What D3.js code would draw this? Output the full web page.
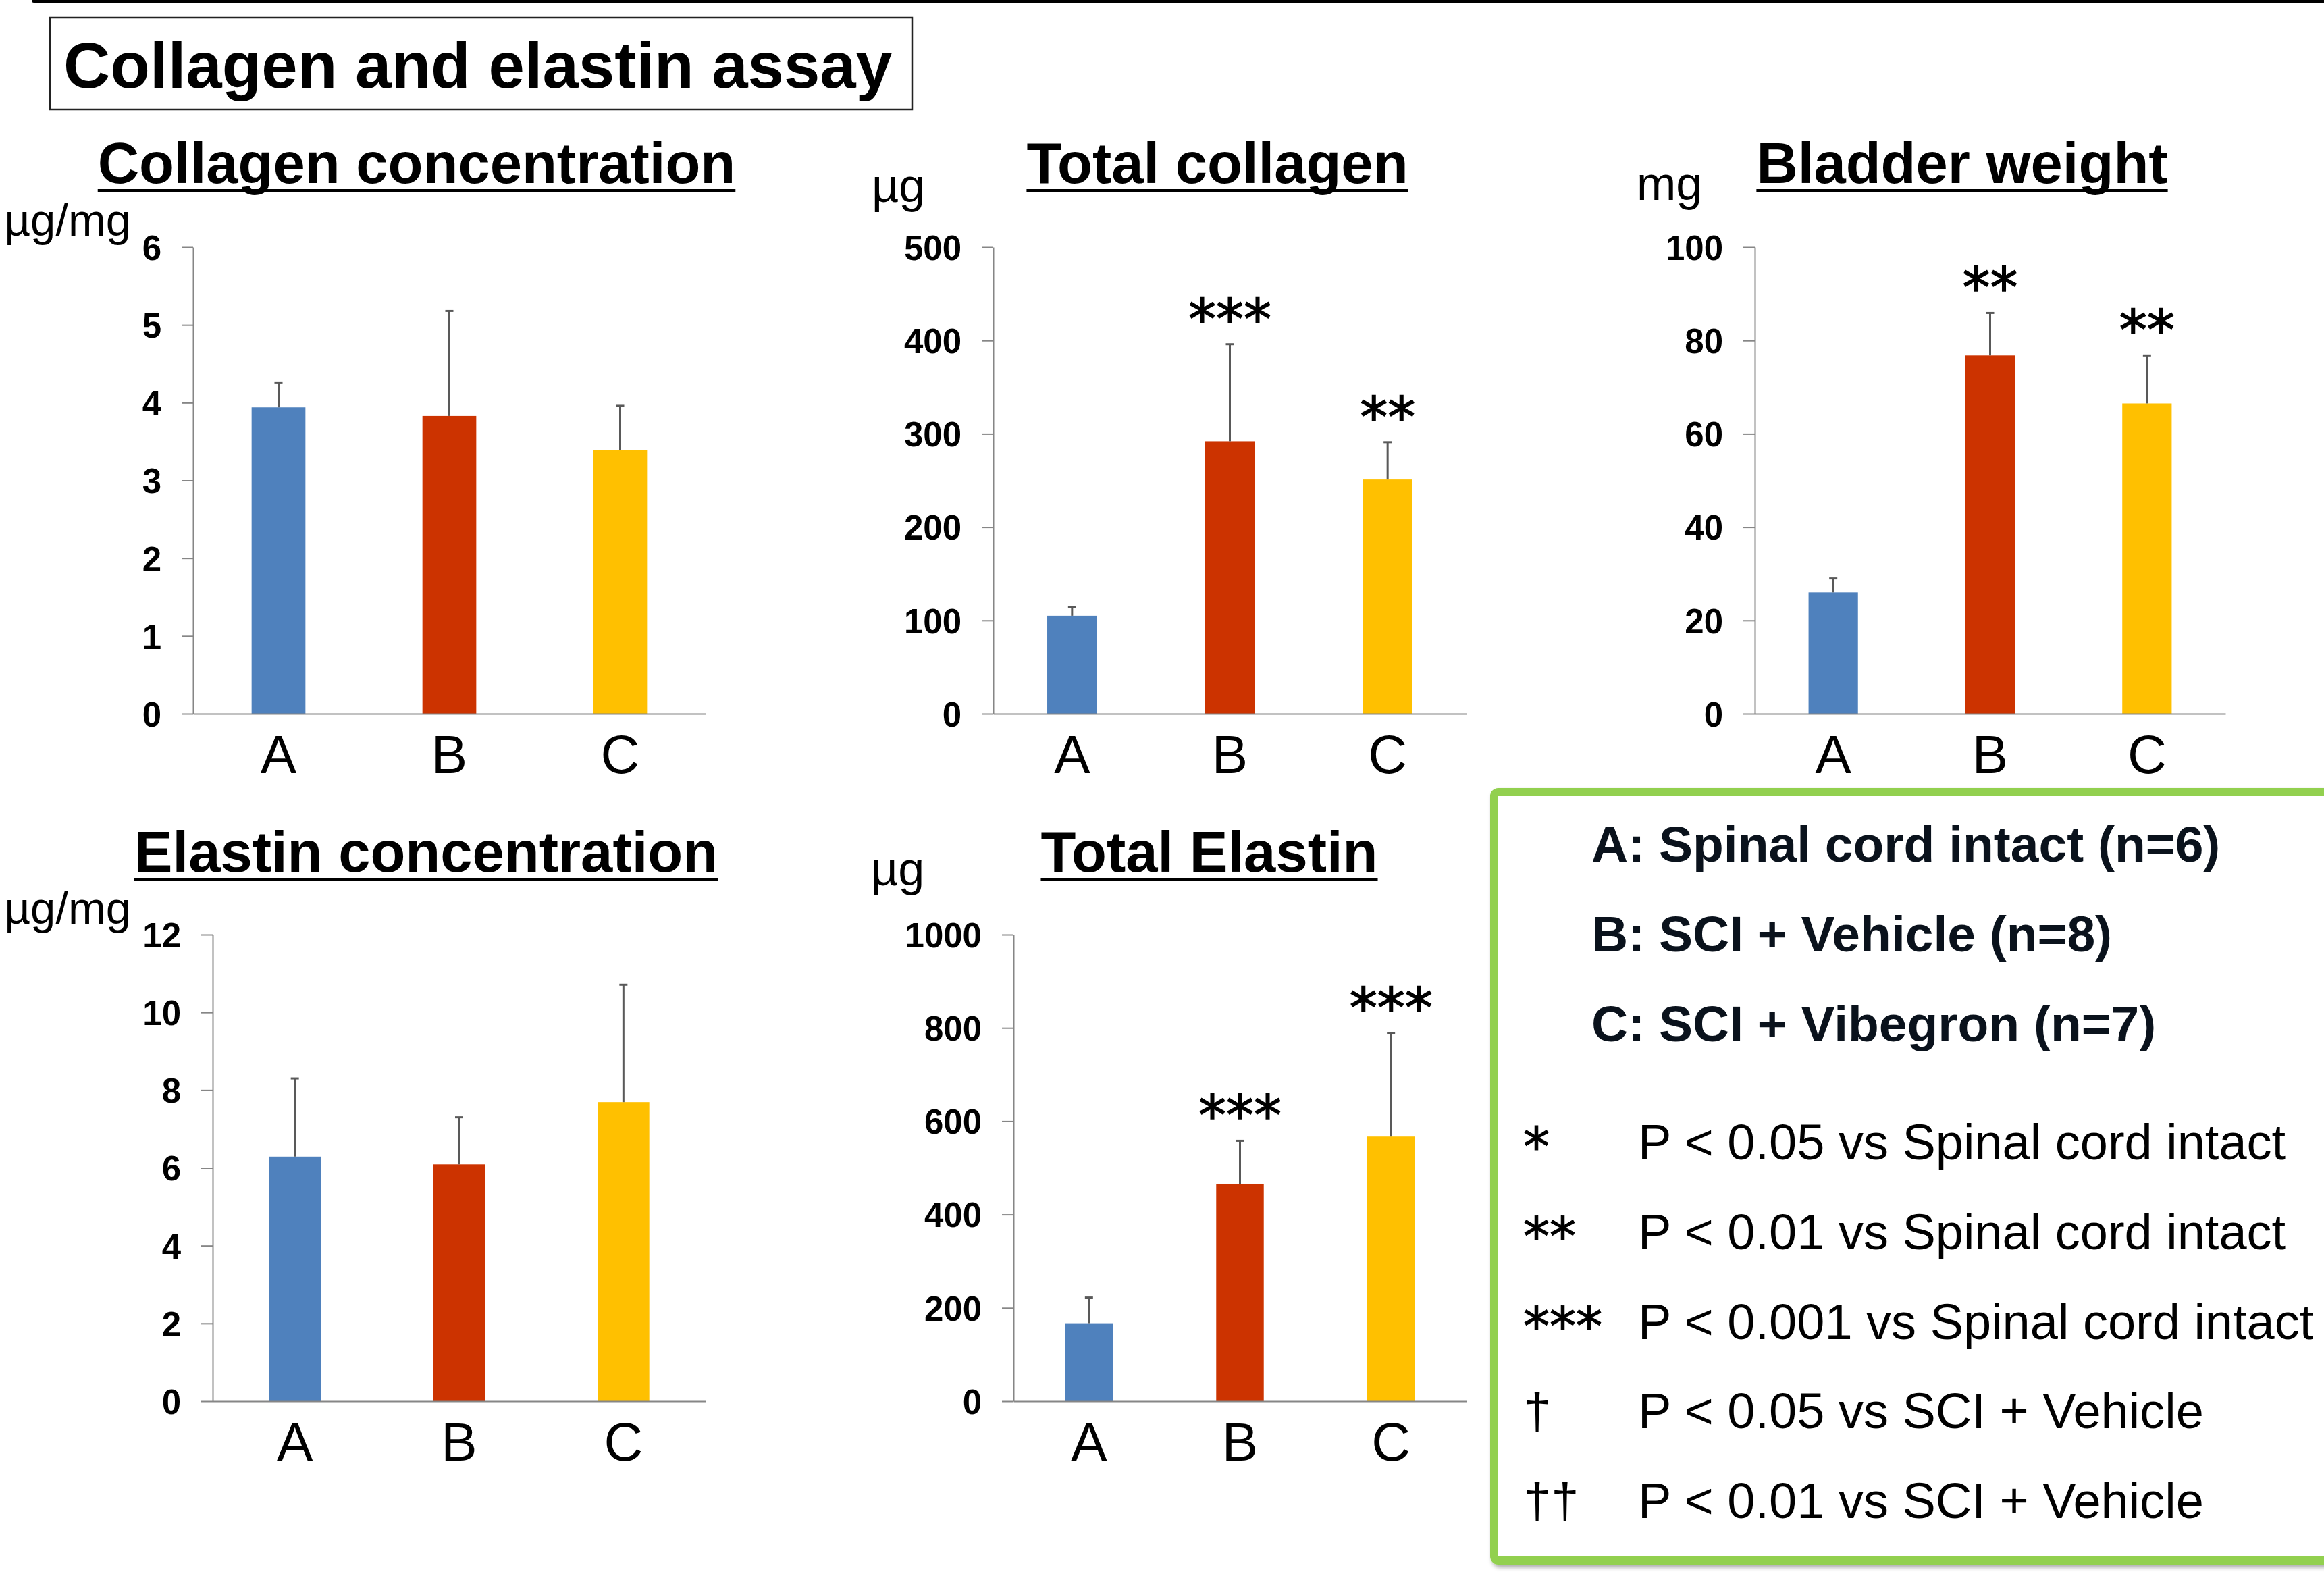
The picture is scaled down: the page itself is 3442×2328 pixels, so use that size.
<!DOCTYPE html>
<html>
<head>
<meta charset="utf-8">
<script src="https://cdn.jsdelivr.net/npm/d3@7"></script>
<style>
  html, body { margin: 0; padding: 0; background: #fff; }
  svg { display: block; }
</style>
</head>
<body>
<svg id="chart" width="3442" height="2328"></svg>
<script>
// ---------------- DATA ----------------
const categories = ["A", "B", "C"];
const barColors = ["#4F81BD", "#CC3300", "#FFC000"];

const collagenConc = [3.94, 3.83, 3.39];
const collagenConcErr = [0.32, 1.35, 0.57];
const collagenConcStars = ["", "", ""];
const collagenConcTicks = [0, 1, 2, 3, 4, 5, 6];

const totalCollagen = [105, 292, 251];
const totalCollagenErr = [9, 104, 40];
const totalCollagenStars = ["", "***", "**"];
const totalCollagenTicks = [0, 100, 200, 300, 400, 500];

const bladderWeight = [26.0, 76.8, 66.5];
const bladderWeightErr = [3.0, 9.1, 10.3];
const bladderWeightStars = ["", "**", "**"];
const bladderWeightTicks = [0, 20, 40, 60, 80, 100];

const elastinConc = [6.29, 6.09, 7.69];
const elastinConcErr = [2.01, 1.21, 3.02];
const elastinConcStars = ["", "", ""];
const elastinConcTicks = [0, 2, 4, 6, 8, 10, 12];

const totalElastin = [167, 466, 567];
const totalElastinErr = [55, 92, 222];
const totalElastinStars = ["", "***", "***"];
const totalElastinTicks = [0, 200, 400, 600, 800, 1000];

const panelTitles = ["Collagen concentration", "Total collagen", "Bladder weight", "Elastin concentration", "Total Elastin"];
const panelUnits = ["µg/mg", "µg", "mg", "µg/mg", "µg"];

const mainTitle = "Collagen and elastin assay";
const legendGroups = ["A: Spinal cord intact (n=6)", "B: SCI + Vehicle (n=8)", "C: SCI + Vibegron (n=7)"];
const legendSymbols = ["*", "**", "***", "†", "††"];
const legendMeanings = ["P < 0.05 vs Spinal cord intact", "P < 0.01 vs Spinal cord intact", "P < 0.001 vs Spinal cord intact", "P < 0.05 vs SCI + Vehicle", "P < 0.01 vs SCI + Vehicle"];

// ---------------- LAYOUT ----------------
const FONT = "'Liberation Sans', Arial, Helvetica, sans-serif";
const STARFONT = "'DejaVu Sans', sans-serif";
const layout = [
  { x0: 286,  x1: 1045, y0: 366,  y1: 1057, titleX: 617,  titleY: 271,  unitX: 194,  unitY: 349,  unitAnchor: "end" },
  { x0: 1471, x1: 2172, y0: 366,  y1: 1057, titleX: 1803, titleY: 271,  unitX: 1291, unitY: 299,  unitAnchor: "start" },
  { x0: 2599, x1: 3296, y0: 366,  y1: 1057, titleX: 2906, titleY: 271,  unitX: 2424, unitY: 296,  unitAnchor: "start" },
  { x0: 315,  x1: 1045, y0: 1384, y1: 2075, titleX: 631,  titleY: 1291, unitX: 194,  unitY: 1368, unitAnchor: "end" },
  { x0: 1501, x1: 2172, y0: 1384, y1: 2075, titleX: 1791, titleY: 1291, unitX: 1290, unitY: 1311, unitAnchor: "start" }
];
const panelData = [
  { values: collagenConc, errs: collagenConcErr, stars: collagenConcStars, ticks: collagenConcTicks },
  { values: totalCollagen, errs: totalCollagenErr, stars: totalCollagenStars, ticks: totalCollagenTicks },
  { values: bladderWeight, errs: bladderWeightErr, stars: bladderWeightStars, ticks: bladderWeightTicks },
  { values: elastinConc, errs: elastinConcErr, stars: elastinConcStars, ticks: elastinConcTicks },
  { values: totalElastin, errs: totalElastinErr, stars: totalElastinStars, ticks: totalElastinTicks }
];

const svg = d3.select("#chart");

// top rule
svg.append("line").attr("x1", 50).attr("x2", 3460).attr("y1", 1.5).attr("y2", 1.5)
  .attr("stroke", "#000").attr("stroke-width", 5).attr("stroke-linecap", "round");

// main title box
svg.append("rect").attr("x", 74).attr("y", 26).attr("width", 1277).attr("height", 136)
  .attr("fill", "none").attr("stroke", "#222").attr("stroke-width", 2.5);
svg.append("text").attr("x", 94).attr("y", 130).attr("font-family", FONT).attr("font-weight", "bold")
  .attr("font-size", 96).attr("fill", "#000").text(mainTitle);

// panels
panelData.forEach((pd, i) => {
  const L = layout[i];
  const g = svg.append("g");
  const yMax = pd.ticks[pd.ticks.length - 1];
  const y = d3.scaleLinear().domain([0, yMax]).range([L.y1, L.y0]);
  const x = d3.scaleBand().domain(categories).range([L.x0, L.x1]).paddingInner(0.685).paddingOuter(0.3425);

  // bars
  g.selectAll("rect.bar").data(categories).enter().append("rect")
    .attr("x", (c) => x(c)).attr("width", x.bandwidth())
    .attr("y", (c, j) => y(pd.values[j])).attr("height", (c, j) => L.y1 - y(pd.values[j]))
    .attr("fill", (c, j) => barColors[j]);

  // error bars
  categories.forEach((c, j) => {
    const cx = x(c) + x.bandwidth() / 2;
    const yTop = y(pd.values[j] + pd.errs[j]);
    g.append("line").attr("x1", cx).attr("x2", cx).attr("y1", y(pd.values[j])).attr("y2", yTop)
      .attr("stroke", "#595959").attr("stroke-width", 3);
    g.append("line").attr("x1", cx - 6).attr("x2", cx + 6).attr("y1", yTop).attr("y2", yTop)
      .attr("stroke", "#595959").attr("stroke-width", 3);
    if (pd.stars[j]) {
      g.append("text").attr("x", cx).attr("y", yTop - 8).attr("text-anchor", "middle")
        .attr("font-family", STARFONT).attr("font-size", 82).attr("fill", "#000")
        .attr("stroke", "#000").attr("stroke-width", 1.5).text(pd.stars[j]);
    }
  });

  // y axis
  const yAxis = g.append("g").attr("transform", `translate(${L.x0},0)`)
    .call(d3.axisLeft(y).tickValues(pd.ticks).tickSize(17).tickSizeOuter(0).tickPadding(30).tickFormat(d3.format("d")));
  yAxis.selectAll("path, line").attr("stroke", "#868686").attr("stroke-width", 2);
  yAxis.selectAll("text").attr("font-family", FONT).attr("font-weight", "bold").attr("font-size", 51)
    .attr("fill", "#000").attr("dy", "0.36em");

  // x axis
  const xAxis = g.append("g").attr("transform", `translate(0,${L.y1})`)
    .call(d3.axisBottom(x).tickSize(0).tickSizeOuter(0).tickPadding(0));
  xAxis.select("path").attr("stroke", "#868686").attr("stroke-width", 2);
  xAxis.selectAll("text").attr("font-family", FONT).attr("font-size", 80).attr("fill", "#000")
    .attr("y", 88).attr("dy", 0);

  // title with underline
  const t = g.append("text").attr("x", L.titleX).attr("y", L.titleY).attr("text-anchor", "middle")
    .attr("font-family", FONT).attr("font-weight", "bold").attr("font-size", 85).attr("fill", "#000")
    .text(panelTitles[i]);
  const w = t.node().getComputedTextLength();
  g.append("rect").attr("x", L.titleX - w / 2).attr("y", L.titleY + 9).attr("width", w).attr("height", 4).attr("fill", "#000");

  // unit label
  g.append("text").attr("x", L.unitX).attr("y", L.unitY).attr("text-anchor", L.unitAnchor)
    .attr("font-family", FONT).attr("font-size", L.unitAnchor === "end" ? 67 : 70).attr("fill", "#000").text(panelUnits[i]);
});

// legend box
const defs = svg.append("defs");
const f = defs.append("filter").attr("id", "shadow").attr("x", "-5%").attr("y", "-5%").attr("width", "110%").attr("height", "110%");
f.append("feDropShadow").attr("dx", 3).attr("dy", 4).attr("stdDeviation", 3).attr("flood-color", "#000").attr("flood-opacity", 0.35);

svg.append("rect").attr("x", 2213).attr("y", 1173).attr("width", 1400).attr("height", 1138).attr("rx", 6)
  .attr("fill", "#fff").attr("stroke", "#92D050").attr("stroke-width", 12).attr("filter", "url(#shadow)");

const legendBoldY = [1276, 1409, 1542];
legendGroups.forEach((s, i) => {
  svg.append("text").attr("x", 2357).attr("y", legendBoldY[i]).attr("font-family", FONT).attr("font-weight", "bold")
    .attr("font-size", 75).attr("fill", "#0a121c").text(s);
});
const legendRegY = [1717, 1850, 1983, 2115, 2248];
legendSymbols.forEach((s, i) => {
  const isStar = s.indexOf("*") >= 0;
  svg.append("text").attr("x", 2256).attr("y", legendRegY[i] + (isStar ? 8 : 0))
    .attr("font-family", isStar ? STARFONT : FONT).attr("font-size", isStar ? 78 : 74).attr("fill", "#000")
    .attr("stroke", isStar ? "#000" : "none").attr("stroke-width", 1.2).text(s);
  svg.append("text").attr("x", 2426).attr("y", legendRegY[i]).attr("font-family", FONT)
    .attr("font-size", 74).attr("fill", "#000").text(legendMeanings[i]);
});
</script>
</body>
</html>
